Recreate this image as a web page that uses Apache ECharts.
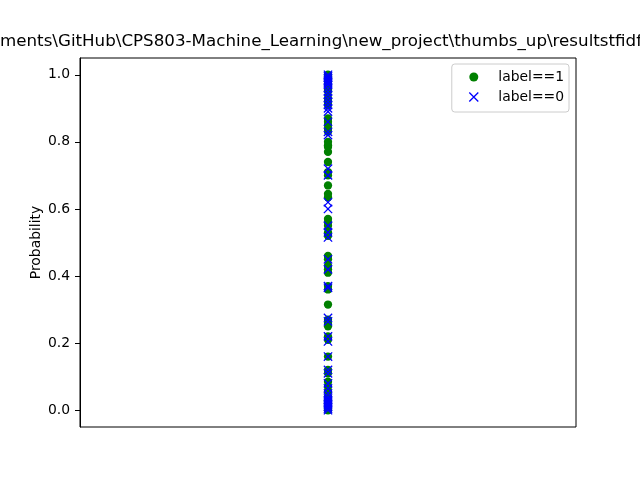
<!DOCTYPE html>
<html>
<head>
<meta charset="utf-8">
<script src="https://cdn.jsdelivr.net/npm/echarts@6/dist/echarts.min.js"></script>
<style>html,body{margin:0;padding:0;background:#fff}#c{width:640px;height:480px}</style>
</head>
<body>
<div id="c"></div>
<script>
var titlePrefix = "C:\\Users\\Owner\\Docu";
var titleText = titlePrefix + "ments\\GitHub\\CPS803-Machine_Learning\\new_project\\thumbs_up\\resultstfidf\\probabilities";
var yTicks = [0.0, 0.2, 0.4, 0.6, 0.8, 1.0];
var label1Name = "label==1";
var label0Name = "label==0";
// probabilities for samples with label==1 (green circles)
var label1Values = [1.0, 0.995, 0.99, 0.98, 0.97, 0.955, 0.95, 0.93, 0.92, 0.91, 0.87, 0.86, 0.85, 0.84, 0.83,
  0.80, 0.79, 0.785, 0.77, 0.74, 0.71, 0.70, 0.67, 0.645, 0.635, 0.57, 0.56, 0.55, 0.53, 0.52,
  0.46, 0.45, 0.43, 0.42, 0.41, 0.37, 0.36, 0.315, 0.27, 0.26, 0.25, 0.22, 0.21, 0.16, 0.12,
  0.11, 0.085, 0.07, 0.055, 0.04, 0.03, 0.02, 0.01, 0.005, 0.0];
// probabilities for samples with label==0 (blue crosses)
var label0Values = [1.0, 0.995, 0.99, 0.985, 0.98, 0.975, 0.97, 0.96, 0.95, 0.94, 0.93, 0.92, 0.91, 0.90, 0.89,
  0.86, 0.83, 0.82, 0.72, 0.70, 0.62, 0.60, 0.55, 0.53, 0.515, 0.45, 0.42, 0.37, 0.365,
  0.275, 0.265, 0.22, 0.205, 0.16, 0.12, 0.11, 0.08, 0.065, 0.05, 0.04, 0.035, 0.03, 0.025,
  0.02, 0.015, 0.01, 0.005, 0.0];
var xPos = 0;

var FONT = "DejaVu Sans";
var cv = document.createElement('canvas').getContext('2d');
cv.font = "16.7px '" + FONT + "'";
var prefixW = cv.measureText(titlePrefix).width;

var chart = echarts.init(document.getElementById('c'), null, {renderer: 'canvas'});
var crossPath = 'path://M0,0L10,10M10,0L0,10';
chart.setOption({
  animation: false,
  backgroundColor: '#ffffff',
  textStyle: {fontFamily: FONT},
  grid: {left: 80, right: 64, top: 58, bottom: 53, show: true, borderColor: '#000', borderWidth: 1, backgroundColor: 'transparent'},
  graphic: [{
    type: 'text', left: -prefixW, top: 33, z: 100,
    style: {text: titleText, fontFamily: FONT, fontSize: 16.7, fill: '#000'}
  }],
  legend: {
    right: 71, top: 64, orient: 'vertical',
    backgroundColor: 'rgba(255,255,255,0.8)', borderColor: '#cccccc', borderWidth: 1, borderRadius: 3,
    padding: [6, 5, 8, 15], itemGap: 6, itemWidth: 9, itemHeight: 9,
    textStyle: {fontFamily: FONT, fontSize: 13.9, color: '#000', padding: [0, 0, 0, 15]},
    data: [
      {name: label1Name, icon: 'circle'},
      {name: label0Name, icon: crossPath, itemStyle: {color: 'none', borderColor: '#0000ff', borderWidth: 1.3}}
    ]
  },
  xAxis: {
    type: 'value', min: -1, max: 1,
    axisLine: {show: false}, axisTick: {show: false}, axisLabel: {show: false}, splitLine: {show: false}
  },
  yAxis: {
    type: 'value', min: -0.05, max: 1.05,
    name: 'Probability', nameLocation: 'middle', nameGap: 37, nameRotate: 90, nameMoveOverlap: false,
    nameTextStyle: {fontFamily: FONT, fontSize: 13.9, color: '#000'},
    axisLine: {show: true, onZero: false, lineStyle: {color: '#000'}},
    axisTick: {show: true, length: 5, customValues: yTicks, lineStyle: {color: '#000'}},
    axisLabel: {show: true, margin: 10, customValues: yTicks, fontFamily: FONT, fontSize: 13.9, color: '#000',
      formatter: function (v) { return v.toFixed(1); }},
    splitLine: {show: false}
  },
  series: [
    {
      name: label1Name, type: 'scatter', symbol: 'circle', symbolSize: 8.3,
      itemStyle: {color: '#008000', opacity: 1},
      data: label1Values.map(function (v) { return [xPos, v]; })
    },
    {
      name: label0Name, type: 'scatter', symbol: crossPath, symbolSize: 8.3,
      itemStyle: {color: 'none', borderColor: '#0000ff', borderWidth: 1.3, opacity: 1},
      data: label0Values.map(function (v) { return [xPos, v]; })
    }
  ]
});
</script>
</body>
</html>
